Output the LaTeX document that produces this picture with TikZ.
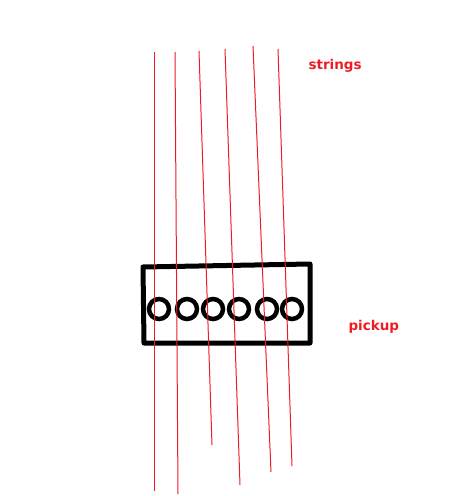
\documentclass[tikz,border=0pt]{standalone}
\usepackage{fontspec}
\setmainfont{DejaVu Sans}
\usepackage{tikz}
\usetikzlibrary{positioning, calc}
\definecolor{paintred}{RGB}{237,28,36}

\begin{document}
\begin{tikzpicture}[x=1pt, y=-1pt,
    string/.style={paintred, line width=1pt},
    pickupbox/.style={line width=5pt, line join=round, line cap=round},
    coil/.style={circle, draw, line width=4.5pt, minimum size=20pt, inner sep=0pt},
    tag/.style={font=\bfseries\fontsize{13.5}{16}\selectfont, text=paintred, anchor=base west}]
    \useasboundingbox (0,0) rectangle (464,496);

    % pickup body
    \draw[pickupbox] (143,267) -- (310,264) -- (310,343) -- (144,343) -- cycle;

    % pole pieces
    \foreach \x [count=\i] in {159,187,213,239,267,292}
      \node[coil] (coil-\i) at (\x,309) {};

    % strings
    \foreach \xt/\yt/\xb/\yb [count=\i] in {154/52/154/491, 175/52/178/494, 199/51/212/445, 225/49/240/485, 253/46/271/472, 278/49/292/466}
    {
      \coordinate (top-\i) at (\xt,\yt);
      \coordinate (bot-\i) at (\xb,\yb);
      \draw[string] (top-\i) -- (bot-\i);
    }

    % labels
    \node[tag] (strings) at (305,69) {strings};
    \node[tag] (pickup) at (345,330) {pickup};
\end{tikzpicture}
\end{document}
